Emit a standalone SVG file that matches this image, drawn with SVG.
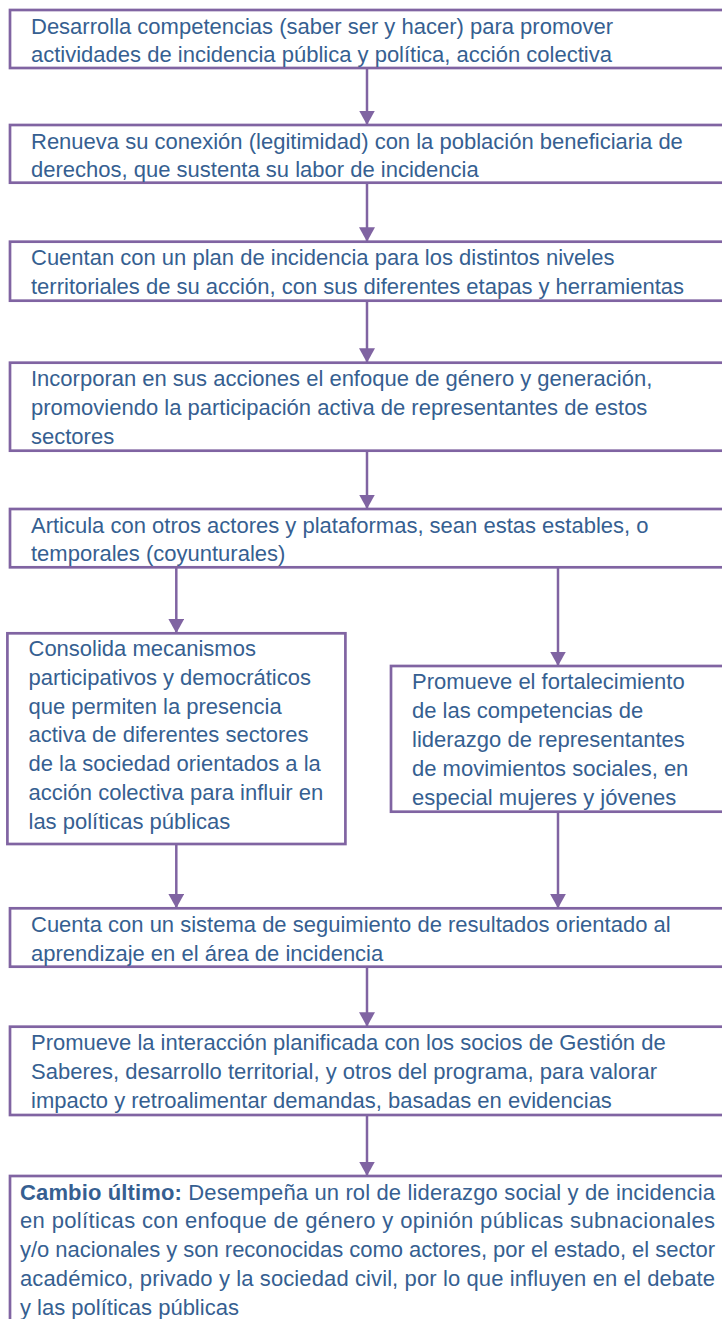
<svg xmlns="http://www.w3.org/2000/svg" width="722" height="1319" viewBox="0 0 722 1319">
<style>
.box{fill:#ffffff;stroke:#8064A2;stroke-width:2.7}
.t{font-family:"Liberation Sans",Arial,sans-serif;font-size:22px;fill:#365F91}
.b{font-weight:bold}
.c{stroke:#8064A2;stroke-width:2.5;fill:none}
</style>
<defs>
<marker id="ah" markerUnits="userSpaceOnUse" markerWidth="17" markerHeight="17" refX="14.5" refY="8" orient="auto">
<path d="M0,0 L14.5,8 L0,16 Z" fill="#8064A2"/>
</marker>
</defs>
<rect width="722" height="1319" fill="#ffffff"/>
<g id="connectors">
<line class="c" x1="367" y1="68" x2="367" y2="125" marker-end="url(#ah)"/>
<line class="c" x1="367" y1="182.7" x2="367" y2="241.7" marker-end="url(#ah)"/>
<line class="c" x1="367" y1="300.7" x2="367" y2="362.7" marker-end="url(#ah)"/>
<line class="c" x1="367" y1="450.7" x2="367" y2="509" marker-end="url(#ah)"/>
<line class="c" x1="176.3" y1="567.3" x2="176.3" y2="633.3" marker-end="url(#ah)"/>
<line class="c" x1="558" y1="567.3" x2="558" y2="666" marker-end="url(#ah)"/>
<line class="c" x1="176.3" y1="844" x2="176.3" y2="908.3" marker-end="url(#ah)"/>
<line class="c" x1="558" y1="811.7" x2="558" y2="908.3" marker-end="url(#ah)"/>
<line class="c" x1="367" y1="966.7" x2="367" y2="1026.7" marker-end="url(#ah)"/>
<line class="c" x1="367" y1="1115" x2="367" y2="1176" marker-end="url(#ah)"/>
</g>
<g id="n1">
<rect class="box" x="10" y="10" width="714" height="58"/>
<text class="t" x="31" y="33.5">Desarrolla competencias (saber ser y hacer) para promover</text>
<text class="t" x="31" y="62.3">actividades de incidencia pública y política, acción colectiva</text>
</g>
<g id="n2">
<rect class="box" x="10" y="125" width="714" height="57.7"/>
<text class="t" x="31" y="148.5">Renueva su conexión (legitimidad) con la población beneficiaria de</text>
<text class="t" x="31" y="177.3">derechos, que sustenta su labor de incidencia</text>
</g>
<g id="n3">
<rect class="box" x="10" y="241.7" width="714" height="59"/>
<text class="t" x="31" y="265.2">Cuentan con un plan de incidencia para los distintos niveles</text>
<text class="t" x="31" y="294">territoriales de su acción, con sus diferentes etapas y herramientas</text>
</g>
<g id="n4">
<rect class="box" x="10" y="362.7" width="714" height="88"/>
<text class="t" x="31" y="386.2">Incorporan en sus acciones el enfoque de género y generación,</text>
<text class="t" x="31" y="415">promoviendo la participación activa de representantes de estos</text>
<text class="t" x="31" y="443.8">sectores</text>
</g>
<g id="n5">
<rect class="box" x="10" y="509" width="714" height="58.3"/>
<text class="t" x="31" y="532.5">Articula con otros actores y plataformas, sean estas estables, o</text>
<text class="t" x="31" y="561.3">temporales (coyunturales)</text>
</g>
<g id="n6">
<rect class="box" x="7.4" y="633.3" width="338" height="210.7"/>
<text class="t" x="28.5" y="656">Consolida mecanismos</text>
<text class="t" x="28.5" y="684.8">participativos y democráticos</text>
<text class="t" x="28.5" y="713.6">que permiten la presencia</text>
<text class="t" x="28.5" y="742.4">activa de diferentes sectores</text>
<text class="t" x="28.5" y="771.2">de la sociedad orientados a la</text>
<text class="t" x="28.5" y="800">acción colectiva para influir en</text>
<text class="t" x="28.5" y="828.8">las políticas públicas</text>
</g>
<g id="n7">
<rect class="box" x="391" y="666" width="334" height="145.7"/>
<text class="t" x="412" y="689.3">Promueve el fortalecimiento</text>
<text class="t" x="412" y="718.1">de las competencias de</text>
<text class="t" x="412" y="746.9">liderazgo de representantes</text>
<text class="t" x="412" y="775.7">de movimientos sociales, en</text>
<text class="t" x="412" y="804.5">especial mujeres y jóvenes</text>
</g>
<g id="n8">
<rect class="box" x="10" y="908.3" width="714" height="58.4"/>
<text class="t" x="31" y="931.8">Cuenta con un sistema de seguimiento de resultados orientado al</text>
<text class="t" x="31" y="960.6">aprendizaje en el área de incidencia</text>
</g>
<g id="n9">
<rect class="box" x="10" y="1026.7" width="714" height="88.3"/>
<text class="t" x="31" y="1050.2">Promueve la interacción planificada con los socios de Gestión de</text>
<text class="t" x="31" y="1079">Saberes, desarrollo territorial, y otros del programa, para valorar</text>
<text class="t" x="31" y="1107.8">impacto y retroalimentar demandas, basadas en evidencias</text>
</g>
<g id="n10">
<rect class="box" x="10" y="1176" width="714" height="160"/>
<text class="t" x="20" y="1199.5" textLength="695" lengthAdjust="spacing"><tspan class="b">Cambio último:</tspan> Desempeña un rol de liderazgo social y de incidencia</text>
<text class="t" x="20" y="1228.3" textLength="695" lengthAdjust="spacing">en políticas con enfoque de género y opinión públicas subnacionales</text>
<text class="t" x="20" y="1257.1" textLength="695" lengthAdjust="spacing">y/o nacionales y son reconocidas como actores, por el estado, el sector</text>
<text class="t" x="20" y="1285.9" textLength="695" lengthAdjust="spacing">académico, privado y la sociedad civil, por lo que influyen en el debate</text>
<text class="t" x="20" y="1314.7">y las políticas públicas</text>
</g>
</svg>
